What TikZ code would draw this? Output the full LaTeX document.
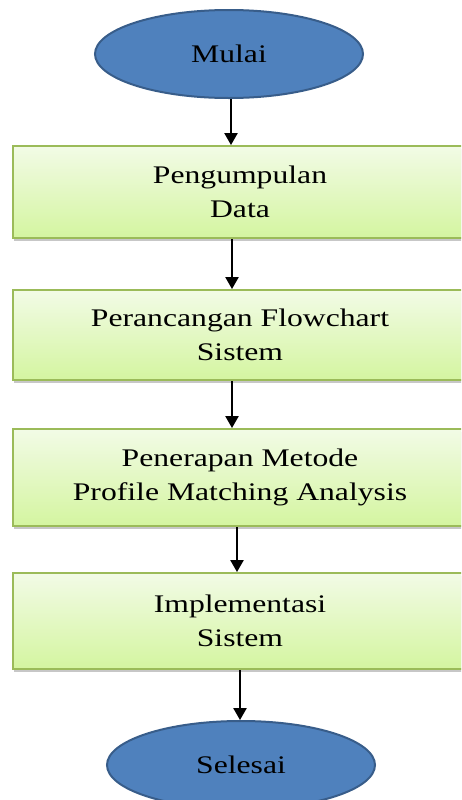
\documentclass[tikz,border=0pt]{standalone}
\usepackage{fontspec}
\setmainfont[FakeStretch=1.25]{Liberation Serif}
\usetikzlibrary{arrows.meta,shadows,shapes.geometric}
\definecolor{ellfill}{HTML}{4F81BD}
\definecolor{elldraw}{HTML}{385D8A}
\definecolor{boxdraw}{HTML}{9BBB59}
\definecolor{boxtop}{HTML}{F2FBE6}
\definecolor{boxbot}{HTML}{D4F5A0}
\tikzset{
  ellbox/.style={ellipse, draw=elldraw, line width=1.5pt, fill=ellfill,
    minimum width=201pt, minimum height=66pt, inner sep=0pt,
    font=\fontsize{19}{25.5}\selectfont},
  stepbox/.style={rectangle, draw=boxdraw, line width=1.5pt,
    top color=boxtop, bottom color=boxbot, minimum width=340.5pt,
    inner sep=0pt, align=center, font=\fontsize{19}{25.5}\selectfont,
    drop shadow={shadow xshift=0.8pt, shadow yshift=-2.5pt, opacity=0.4, fill=black!55}},
  arr/.style={line width=1.1pt, -{Triangle[width=10pt,length=9pt]}}
}
\begin{document}
\begin{tikzpicture}[x=0.75pt,y=-0.75pt]
\useasboundingbox (0,0) rectangle (461,800);
\clip (0,0) rectangle (461,800);
\fill[white] (0,0) rectangle (461,800);
\node[ellbox] (mulai) at (229,54) {Mulai};
\node[stepbox, minimum height=69pt] (b1) at (240,192) {Pengumpulan\\Data};
\node[stepbox, minimum height=67.5pt] (b2) at (240,335) {Perancangan Flowchart\\Sistem};
\node[stepbox, minimum height=72.75pt] (b3) at (240,477.5) {Penerapan Metode\\Profile Matching Analysis};
\node[stepbox, minimum height=72pt] (b4) at (240,621) {Implementasi\\Sistem};
\node[ellbox] (selesai) at (241,765) {Selesai};
\draw[arr] (mulai.south -| 231,0) -- (b1.north -| 231,0);
\draw[arr] (b1.south -| 232,0) -- (b2.north -| 232,0);
\draw[arr] (b2.south -| 232,0) -- (b3.north -| 232,0);
\draw[arr] (b3.south -| 237,0) -- (b4.north -| 237,0);
\draw[arr] (b4.south -| 240,0) -- (selesai.north -| 240,0);
\end{tikzpicture}
\end{document}
